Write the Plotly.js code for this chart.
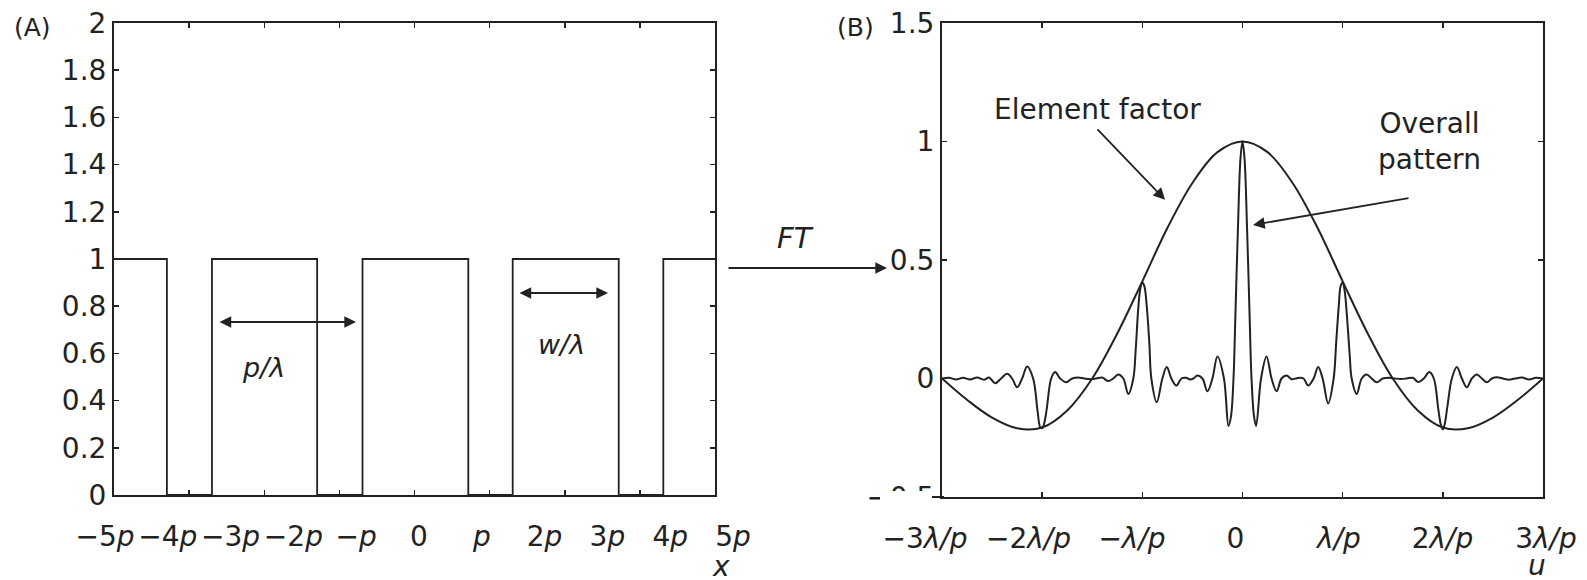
<!DOCTYPE html>
<html>
<head>
<meta charset="utf-8">
<script src="https://cdn.plot.ly/plotly-3.0.1.min.js"></script>
<style>html,body{margin:0;padding:0;background:#fff;}</style>
</head>
<body>
<div id="chart" style="width:1587px;height:580px;"></div>
<script>
// ---------- DATA ----------
// Panel A: periodic rectangular aperture (edges in units of p, levels after each edge)
const pulseEdges  = [-5, -4.12, -3.37, -1.62, -0.865, 0.895, 1.634, 3.398, 4.14, 5];
const pulseLevels = [ 1,  0,     1,     0,     1,      0,     1,     0,     1,    1];
const leftTickVals = [-5, -4, -3, -2, -1, 0, 1, 2, 3, 4, 5];
const leftTickText = ['−5<i>p</i>', '−4<i>p</i>', '−3<i>p</i>', '−2<i>p</i>', '−<i>p</i>', '0',
                      '<i>p</i>', '2<i>p</i>', '3<i>p</i>', '4<i>p</i>', '5<i>p</i>'];

// Panel B: element factor (u in units of λ/p)
const efU = [-3, -2.75, -2.5, -2.25, -2, -1.75, -1.5, -1.25, -1, -0.75, -0.5, -0.25, 0,
             0.25, 0.5, 0.75, 1, 1.25, 1.5, 1.75, 2, 2.25, 2.5, 2.75, 3];
const efV = [0, -0.09, -0.165, -0.21, -0.207, -0.135, 0, 0.19, 0.41, 0.635, 0.825, 0.955, 1,
             0.955, 0.825, 0.635, 0.41, 0.19, 0, -0.135, -0.207, -0.21, -0.165, -0.09, 0];

// Panel B: overall pattern
const opU = [-3, -2.93, -2.86, -2.79, -2.72, -2.65, -2.58, -2.53, -2.47, -2.41, -2.35, -2.3, -2.25, -2.2, -2.15, -2.09,
             -2.045, -2.02, -2, -1.98, -1.955, -1.91, -1.87, -1.82, -1.76, -1.7, -1.64, -1.58, -1.52, -1.46, -1.4,
             -1.34, -1.29, -1.24, -1.19, -1.14, -1.09, -1.065, -1.04, -1.02, -1, -0.98, -0.955, -0.93, -0.91,
             -0.856, -0.8, -0.756, -0.71, -0.66, -0.61, -0.564, -0.524, -0.49, -0.45, -0.4, -0.35, -0.3, -0.25,
             -0.185, -0.14, -0.115, -0.09, -0.07, -0.045, -0.02, 0,
             0.02, 0.045, 0.07, 0.09, 0.115, 0.136, 0.185, 0.24, 0.29, 0.34, 0.39, 0.44, 0.49, 0.53, 0.565, 0.61,
             0.655, 0.71, 0.755, 0.8, 0.855, 0.91, 0.935, 0.96, 0.98, 1, 1.02, 1.045, 1.07, 1.09, 1.14, 1.19,
             1.24, 1.29, 1.34, 1.4, 1.46, 1.52, 1.58, 1.64, 1.7, 1.755, 1.81, 1.865, 1.91, 1.955, 1.98, 2,
             2.02, 2.045, 2.09, 2.14, 2.19, 2.24, 2.29, 2.34, 2.39, 2.44, 2.49, 2.54, 2.6, 2.66, 2.72, 2.79,
             2.86, 2.93, 3];
const opV = [0, 0.003, -0.004, 0.003, -0.004, 0.004, -0.005, 0.004, -0.02, 0, 0.02, 0, -0.037, 0, 0.051, 0,
             -0.14, -0.205, -0.21, -0.19, -0.13, 0, 0.027, 0, -0.016, 0, 0.004, 0, -0.003, 0, 0.004,
             -0.011, 0, 0.017, 0, -0.065, 0, 0.13, 0.3, 0.38, 0.405, 0.39, 0.3, 0.15, 0,
             -0.1, 0, 0.048, 0, -0.03, 0, 0.003, -0.004, 0, 0.013, 0, -0.054, 0, 0.093,
             0, -0.2, -0.16, 0, 0.28, 0.64, 0.93, 1,
             0.93, 0.64, 0.28, 0, -0.16, -0.2, 0, 0.093, 0, -0.054, 0, 0.013, -0.003, 0, 0.003, 0,
             -0.03, 0, 0.048, 0, -0.105, 0, 0.15, 0.3, 0.39, 0.405, 0.37, 0.25, 0.1, 0, -0.065, 0,
             0.017, 0, -0.016, 0, 0.003, 0, -0.002, 0, 0.003, -0.015, 0, 0.027, 0, -0.13, -0.195, -0.215,
             -0.19, -0.12, 0, 0.048, 0, -0.037, 0, 0.017, 0, -0.016, 0, 0.005, 0, -0.005, 0, 0.004,
             -0.004, 0.003, 0];
const rightTickVals = [-3, -2, -1, 0, 1, 2, 3];
const rightTickText = ['−3<i>λ/p</i>', '−2<i>λ/p</i>', '−<i>λ/p</i>', '0', '<i>λ/p</i>', '2<i>λ/p</i>', '3<i>λ/p</i>'];

// ---------- LAYOUT HELPERS ----------
const W = 1587, H = 580;
const fx = px => px / W;
const fy = py => 1 - py / H;
const INK = '#222';
const FONT = 'DejaVu Sans';

const traces = [
  {x: pulseEdges, y: pulseLevels, xaxis: 'x', yaxis: 'y', mode: 'lines',
   line: {shape: 'hv', color: INK, width: 1.8}, hoverinfo: 'skip', showlegend: false},
  {x: [0], y: [null], xaxis: 'x2', yaxis: 'y', mode: 'lines', hoverinfo: 'skip', showlegend: false},
  {x: efU, y: efV, xaxis: 'x3', yaxis: 'y3', mode: 'lines',
   line: {shape: 'spline', smoothing: 1, color: INK, width: 2}, hoverinfo: 'skip', showlegend: false},
  {x: opU, y: opV, xaxis: 'x3', yaxis: 'y3', mode: 'lines',
   line: {shape: 'spline', smoothing: 1, color: INK, width: 2}, hoverinfo: 'skip', showlegend: false},
  {x: [0], y: [null], xaxis: 'x4', yaxis: 'y3', mode: 'lines', hoverinfo: 'skip', showlegend: false}
];

const frameAxis = {
  showline: true, linecolor: INK, linewidth: 2, mirror: 'ticks',
  ticks: 'inside', ticklen: 5, tickwidth: 1.5, tickcolor: INK,
  showgrid: false, zeroline: false, fixedrange: true
};
const labelAxis = {
  showline: false, ticks: '', showgrid: false, zeroline: false, fixedrange: true,
  ticklabelstandoff: 22,
  tickfont: {family: FONT, size: 28, color: INK}
};

const layout = {
  width: W, height: H,
  margin: {l: 0, r: 0, t: 0, b: 0},
  paper_bgcolor: '#fff', plot_bgcolor: 'rgba(0,0,0,0)',
  font: {family: FONT, size: 28, color: INK},
  showlegend: false,
  xaxis: Object.assign({}, frameAxis, {domain: [fx(114), fx(715)], range: [-5, 5],
          tick0: 0, dtick: 1.25, showticklabels: false, anchor: 'y'}),
  yaxis: Object.assign({}, frameAxis, {domain: [fy(495), fy(23)], range: [0, 2], dtick: 0.2,
          tickfont: {family: FONT, size: 28, color: INK}, anchor: 'x'}),
  xaxis2: Object.assign({}, labelAxis, {domain: [fx(105), fx(733)], range: [-5, 5], anchor: 'y',
          tickmode: 'array', tickvals: leftTickVals, ticktext: leftTickText}),
  xaxis3: Object.assign({}, frameAxis, {domain: [fx(942), fx(1543)], range: [-3, 3], dtick: 1,
          showticklabels: false, anchor: 'y3'}),
  yaxis3: Object.assign({}, frameAxis, {domain: [fy(497), fy(23)], range: [-0.5, 1.5], dtick: 0.5,
          tickfont: {family: FONT, size: 28, color: INK}, anchor: 'x3'}),
  xaxis4: Object.assign({}, labelAxis, {domain: [fx(925), fx(1546)], range: [-3, 3], anchor: 'y3',
          tickmode: 'array', tickvals: rightTickVals, ticktext: rightTickText}),
  shapes: [
    {type: 'rect', xref: 'paper', yref: 'paper', x0: fx(880), x1: fx(940), y0: fy(491), y1: fy(517),
     fillcolor: '#fff', line: {width: 0}, layer: 'above'},
    {type: 'line', xref: 'paper', yref: 'paper', x0: fx(932), x1: fx(944), y0: fy(497), y1: fy(497),
     line: {color: INK, width: 2}, layer: 'above'}
  ],
  annotations: [
    {xref: 'paper', yref: 'paper', x: fx(32), y: fy(27), text: '(A)', showarrow: false,
     font: {size: 25}, xanchor: 'center', yanchor: 'middle'},
    {xref: 'paper', yref: 'paper', x: fx(855), y: fy(27), text: '(B)', showarrow: false,
     font: {size: 25}, xanchor: 'center', yanchor: 'middle'},
    {xref: 'paper', yref: 'paper', x: fx(795), y: fy(238), text: '<i>FT</i>', showarrow: false,
     font: {size: 29}, xanchor: 'center', yanchor: 'middle'},
    {xref: 'paper', yref: 'paper', x: fx(887), y: fy(268), ax: -160, ay: 0, text: '',
     showarrow: true, arrowhead: 2, arrowsize: 1.3, arrowwidth: 1.8, arrowcolor: INK},
    // p/λ
    {xref: 'x', yref: 'y', x: -0.973, y: 0.733, axref: 'x', ayref: 'y', ax: -3.27, ay: 0.733, text: '',
     showarrow: true, arrowside: 'end+start', arrowhead: 2, startarrowhead: 2, arrowsize: 1.3,
     startarrowsize: 1.3, arrowwidth: 1.8, arrowcolor: INK},
    {xref: 'x', yref: 'y', x: -2.52, y: 0.542, text: '<i>p/λ</i>', showarrow: false, font: {size: 27}},
    // w/λ
    {xref: 'x', yref: 'y', x: 3.22, y: 0.856, axref: 'x', ayref: 'y', ax: 1.722, ay: 0.856, text: '',
     showarrow: true, arrowside: 'end+start', arrowhead: 2, startarrowhead: 2, arrowsize: 1.3,
     startarrowsize: 1.3, arrowwidth: 1.8, arrowcolor: INK},
    {xref: 'x', yref: 'y', x: 2.45, y: 0.636, text: '<i>w/λ</i>', showarrow: false, font: {size: 27}},
    // panel B labels
    {xref: 'x3', yref: 'y3', x: -1.452, y: 1.136, text: 'Element factor', showarrow: false, font: {size: 28}},
    {xref: 'x3', yref: 'y3', x: -0.773, y: 0.754, ax: -69, ay: -72, text: '',
     showarrow: true, arrowhead: 2, arrowsize: 1.3, arrowwidth: 1.8, arrowcolor: INK},
    {xref: 'x3', yref: 'y3', x: 1.871, y: 1.0, text: 'Overall<br>pattern', showarrow: false,
     font: {size: 28}, align: 'center'},
    {xref: 'x3', yref: 'y3', x: 0.105, y: 0.648, ax: 157, ay: -27, text: '',
     showarrow: true, arrowhead: 2, arrowsize: 1.3, arrowwidth: 1.8, arrowcolor: INK},
    // axis variable names
    {xref: 'paper', yref: 'paper', x: fx(721), y: fy(566), text: '<i>x</i>', showarrow: false,
     font: {size: 28}, xanchor: 'center', yanchor: 'middle'},
    {xref: 'paper', yref: 'paper', x: fx(1537), y: fy(565), text: '<i>u</i>', showarrow: false,
     font: {size: 28}, xanchor: 'center', yanchor: 'middle'}
  ]
};

Plotly.newPlot('chart', traces, layout, {displayModeBar: false, staticPlot: true});
</script>
</body>
</html>
